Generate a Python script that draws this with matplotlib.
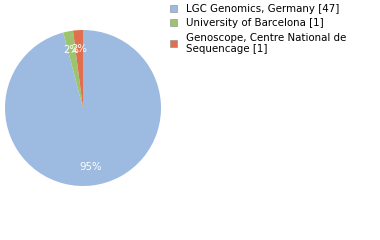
import matplotlib
matplotlib.use("Agg")
import matplotlib.pyplot as plt

labels = ["LGC Genomics, Germany [47]", "University of Barcelona [1]",
          "Genoscope, Centre National de\nSequencage [1]"]
values = [47, 1, 1]
colors = ["#9dbbe1", "#9cc46e", "#df6f4f"]

fig = plt.figure(figsize=(3.8, 2.4), dpi=100)
ax = fig.add_axes([5/380, 54/240, 156/380, 156/240])
wedges, texts, autotexts = ax.pie(values, colors=colors, startangle=90, counterclock=False,
                                  autopct=lambda p: f"{int(p)}%", pctdistance=0.76,
                                  textprops=dict(color="white", fontsize=7.3))
ax.set_xlim(-1, 1)
ax.set_ylim(-1, 1)
ax.set_aspect("equal")
leg = fig.legend(wedges, labels, loc="upper left", bbox_to_anchor=(168/380, 1 - 2/240),
                 frameon=False, fontsize=7.4, handlelength=0.7, handleheight=0.7,
                 handletextpad=0.9, labelspacing=0.42, borderaxespad=0, borderpad=0.2)
for t in leg.get_texts():
    t.set_linespacing(1.2)
for h in leg.legend_handles:
    h.set_edgecolor("#888888")
    h.set_linewidth(0.4)
fig.savefig("out.png", dpi=100)
